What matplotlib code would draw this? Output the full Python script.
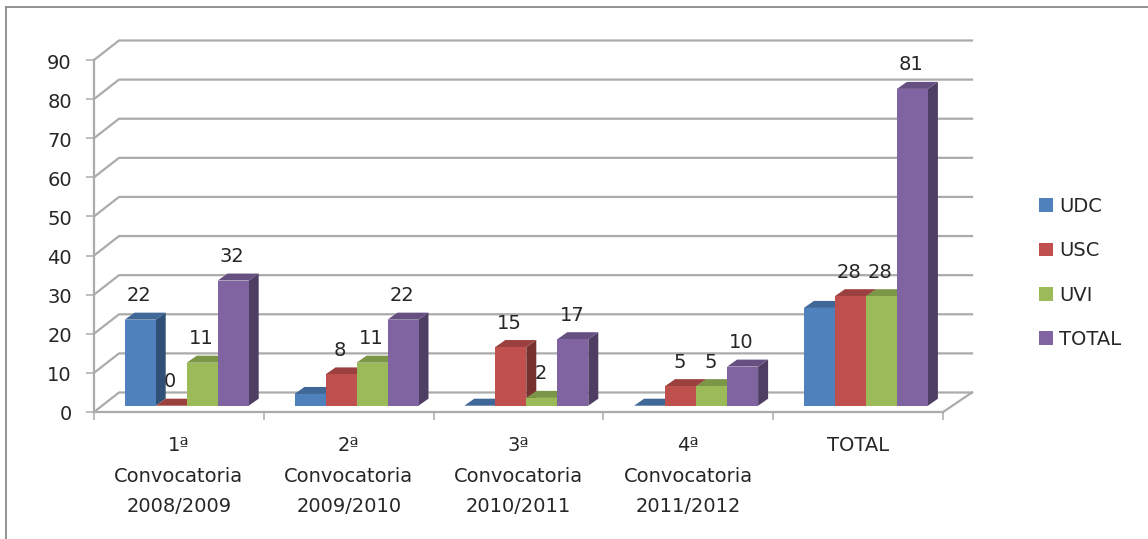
import matplotlib
matplotlib.use("Agg")
import matplotlib.pyplot as plt
from matplotlib.patches import Polygon, Patch
from matplotlib.lines import Line2D
from matplotlib.transforms import Affine2D

plt.rcParams['font.family'] = ['DejaVu Sans']

# Data
categories = ["1ª\nConvocatoria\n2008/2009", "2ª\nConvocatoria\n2009/2010",
              "3ª\nConvocatoria\n2010/2011", "4ª\nConvocatoria\n2011/2012", "TOTAL\n\n"]
series_names = ["UDC", "USC", "UVI", "TOTAL"]
udc = [22, 3, 0, 0, 25]
usc = [0, 8, 15, 5, 28]
uvi = [11, 11, 2, 5, 28]
total = [32, 22, 17, 10, 81]
# Only these values carry a label in the original
udc_labels = [True, False, False, False, False]
other_labels = [True, True, True, True, True]
y_ticks = list(range(0, 100, 10))

colors = ["#4F81BD", "#C0504D", "#9BBB59", "#8064A2"]
W, H = 1148, 539
grid_col = "#ababab"
text_col = "#262626"
font_size = 14


def shade(hex_col, k):
    rgb = matplotlib.colors.to_rgb(hex_col)
    return tuple(c * k for c in rgb)


fig = plt.figure(figsize=(W / 100, H / 100), dpi=100)
ax = fig.add_axes([94 / W, 1 - 412 / H, (943 - 94) / W, (412 - 60) / H])
ax.set_xlim(0, 5)
ax.set_ylim(0, 90)
ax.patch.set_alpha(0)

# Outer chart frame
fig.add_artist(Line2D([6 / W, 6 / W], [0, 1 - 7 / H], color="#8a8a8a", lw=1.3))
fig.add_artist(Line2D([6 / W, 1], [1 - 7 / H, 1 - 7 / H], color="#8a8a8a", lw=1.3))

# Axis styling
for s in ["top", "right"]:
    ax.spines[s].set_visible(False)
for s in ["left", "bottom"]:
    ax.spines[s].set_color(grid_col)
    ax.spines[s].set_linewidth(1.6)
ax.set_yticks(y_ticks)
ax.set_xticks(range(6))
ax.set_xticklabels([])
ax.set_xticks([i + 0.5 for i in range(5)], categories, minor=True)
ax.tick_params(axis="y", length=6, width=1.1, color=grid_col, pad=10, labelsize=font_size, labelcolor=text_col)
ax.tick_params(axis="x", which="major", length=6, width=1.1, color=grid_col)
ax.tick_params(axis="x", which="minor", length=0, pad=17.5, labelsize=font_size, labelcolor=text_col)
for lab in ax.get_xticklabels(minor=True):
    lab.set_linespacing(1.75)
for lab in ax.get_yticklabels():
    lab.set_transform(lab.get_transform() + Affine2D().translate(0, -1))

# Back wall gridlines and the floor, in display pixels from the axis scale
for v in y_ticks:
    x0, y0 = ax.transData.transform((0, v))
    x1, y1 = ax.transData.transform((5, v))
    ax.add_line(Line2D([x0, x0 + 25, x1 + 29], [y0, y0 + 19.5, y1 + 19.5], color=grid_col,
                       lw=1.6, transform=None, clip_on=False, zorder=1))
x1, y1 = ax.transData.transform((5, 0))
ax.add_line(Line2D([x1, x1 + 29], [y1, y1 + 19.5], color=grid_col, lw=1.6,
                   transform=None, clip_on=False, zorder=1))

# Bars
bar_w = 31 / ((943 - 94) / 5)
dx, dy = 10, 7
front = ax.transData + Affine2D().translate(7.8, 6.3)
all_series = [udc, usc, uvi, total]
z = 3
for i in range(5):
    for j, vals in enumerate(all_series):
        x = i + 0.5 + (j - 1.5) * bar_w
        v = vals[i]
        (l, b) = front.transform((x - bar_w / 2, 0))
        (r, t) = front.transform((x + bar_w / 2, v))
        side = Polygon([(r, b), (r + dx, b + dy), (r + dx, t + dy), (r, t)], closed=True,
                       transform=None, fc=shade(colors[j], 0.62), ec="none", zorder=z, clip_on=False)
        top = Polygon([(l, t), (l + dx, t + dy), (r + dx, t + dy), (r, t)], closed=True,
                      transform=None, fc=shade(colors[j], 0.8), ec="none", zorder=z, clip_on=False)
        ax.add_patch(side)
        ax.add_patch(top)
        ax.bar(x, v, bar_w, color=colors[j], transform=front, zorder=z, clip_on=False)
        z += 1
        show = udc_labels[i] if j == 0 else other_labels[i]
        if show:
            ax.annotate(str(v), xy=(x, v), xycoords=front, xytext=(-1, 24), textcoords="offset pixels",
                        ha="center", va="center", fontsize=font_size, color=text_col, zorder=100)

# Legend
handles = [Patch(fc=c, ec="none", label=n) for c, n in zip(colors, series_names)]
fig.legend(handles=handles, loc="center left", bbox_to_anchor=(1021 / W, 1 - 273 / H), frameon=False,
           fontsize=font_size, labelspacing=1.3, handlelength=0.72, handleheight=0.72, handletextpad=0.35,
           labelcolor=text_col)

fig.savefig("out.png", dpi=100)
